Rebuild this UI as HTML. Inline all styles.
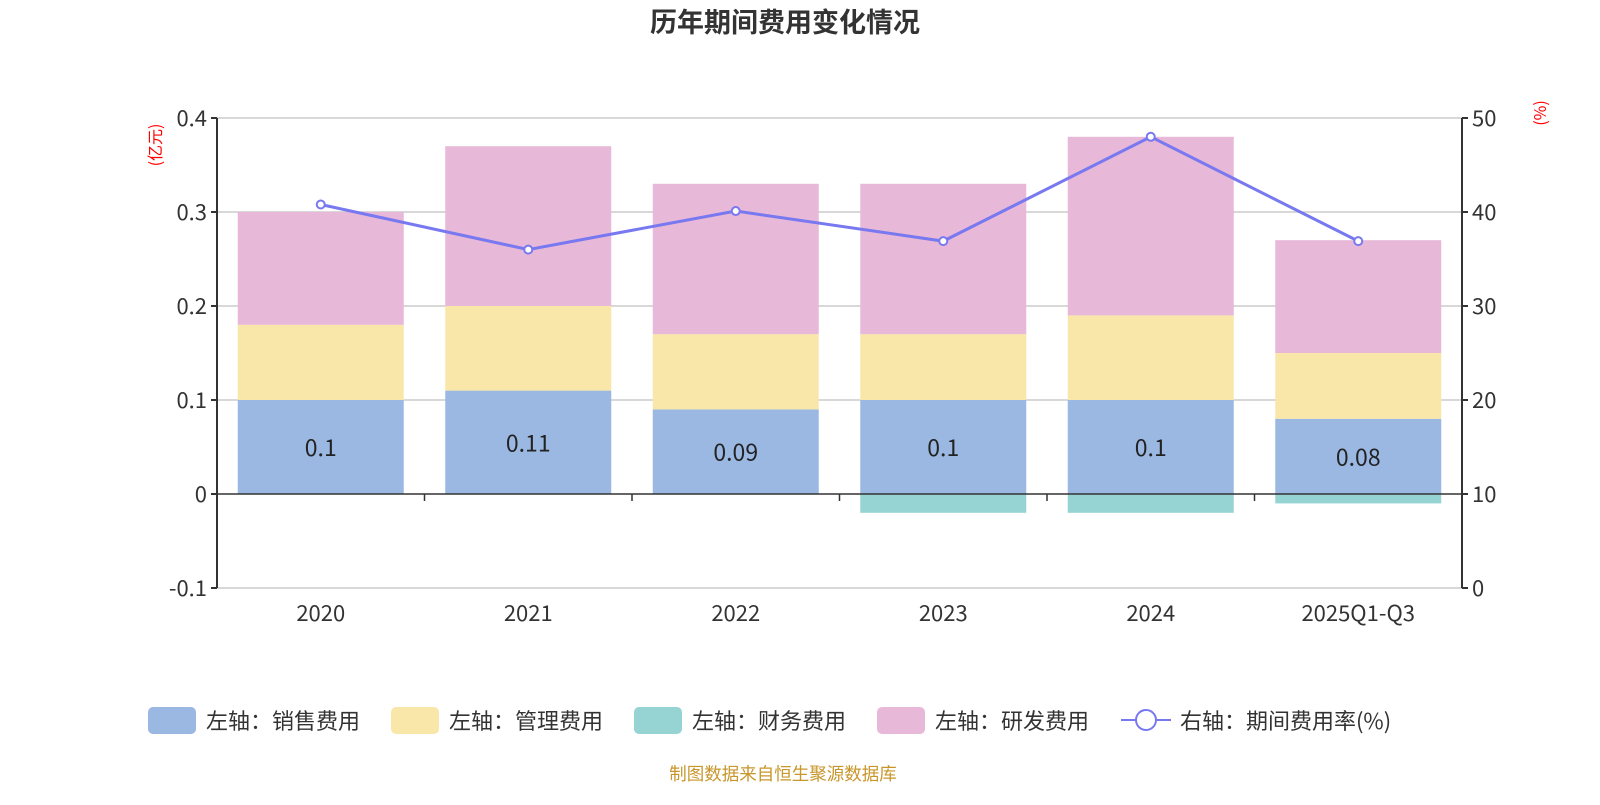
<!DOCTYPE html>
<html><head><meta charset="utf-8"><style>
body{margin:0;background:#fff;width:1600px;height:800px;overflow:hidden;font-family:"Noto Sans CJK SC","Liberation Sans",sans-serif}
svg text{font-family:"Noto Sans CJK SC","Liberation Sans",sans-serif}
</style></head><body>
<svg id="c" width="1600" height="800"></svg>
<script>
const categories=["2020","2021","2022","2023","2024","2025Q1-Q3"];
const sales=[0.1,0.11,0.09,0.1,0.1,0.08];
const mgmt=[0.08,0.09,0.08,0.07,0.09,0.07];
const finance=[0,0,0,-0.02,-0.02,-0.01];
const rnd=[0.12,0.17,0.16,0.16,0.19,0.12];
const rate=[40.8,36,40.1,36.9,48,36.9];
const leftTicks=[-0.1,0,0.1,0.2,0.3,0.4];
const rightTicks=[0,10,20,30,40,50];
const salesLabels=["0.1","0.11","0.09","0.1","0.1","0.08"];
const NS="http://www.w3.org/2000/svg";
const svg=document.getElementById('c');
const X0=217,X1=1462,YT=118,YB=588;
const band=(X1-X0)/categories.length,bw=166;
function yL(v){return YB-(v+0.1)/0.5*(YB-YT);}
function yR(v){return YB-v/50*(YB-YT);}
function xC(i){return X0+band*(i+0.5);}
function mk(t,a,p){const e=document.createElementNS(NS,t);for(const k in a)e.setAttribute(k,a[k]);(p||svg).appendChild(e);return e;}
let t=mk('text',{x:785,y:32,'text-anchor':'middle','font-size':27,'font-weight':'bold',fill:'#333'});t.textContent='历年期间费用变化情况';


leftTicks.forEach((v,i)=>{const y=yL(v);
 if(v!==0){const g=mk('line',{x1:X0,x2:X1,y1:y,y2:y,stroke:'#ccc','stroke-width':1.5});
 
 }
 mk('line',{x1:X0-6,x2:X0,y1:y,y2:y,stroke:'#333','stroke-width':2});
 const l=mk('text',{x:X0-10,y:y+8,'text-anchor':'end','font-size':22,fill:'#333'});l.textContent=v;
 
 
});
rightTicks.forEach(v=>{const y=yR(v);
 mk('line',{x1:X1,x2:X1+6,y1:y,y2:y,stroke:'#333','stroke-width':2});
 const l=mk('text',{x:X1+10,y:y+8,'font-size':22,fill:'#333'});l.textContent=v;
 
 
});
let u=mk('text',{x:0,y:0,'font-size':16,fill:'red','text-anchor':'middle',transform:'translate(161,145) rotate(-90)'});u.textContent='(亿元)';


u=mk('text',{x:0,y:0,'font-size':16,fill:'red','text-anchor':'middle',transform:'translate(1546,113) rotate(-90)'});u.textContent='(%)';


const cols=['#9bb8e2','#f8e7a8','#96d4d4','#e8b8d8'];
categories.forEach((c,i)=>{
 const x=xC(i)-bw/2;let pos=0;
 [[sales,0,'bar-sales'],[mgmt,1,'bar-management'],[rnd,3,'bar-rnd']].forEach(([arr,ci,n])=>{
  const v=arr[i];const r=mk('rect',{x:x,y:yL(pos+v),width:bw,height:yL(pos)-yL(pos+v),fill:cols[ci]});
  
  
  pos+=v;});
 const f=finance[i];if(f<0){const r=mk('rect',{x:x,y:yL(0),width:bw,height:yL(f)-yL(0),fill:cols[2]});
  
  }
 const l=mk('text',{x:xC(i),y:(yL(0)+yL(sales[i]))/2+9,'text-anchor':'middle','font-size':23,fill:'#222'});l.textContent=salesLabels[i];
 
 
 const xl=mk('text',{x:xC(i),y:621,'text-anchor':'middle','font-size':22,fill:'#333'});xl.textContent=c;
 
 
});
mk('line',{x1:X0,x2:X0,y1:YT,y2:YB,stroke:'#333','stroke-width':2});
mk('line',{x1:X1,x2:X1,y1:YT,y2:YB,stroke:'#333','stroke-width':2});
mk('line',{x1:X0,x2:X1,y1:yL(0),y2:yL(0),stroke:'#333','stroke-width':1.5});
for(let i=0;i<=categories.length;i++){mk('line',{x1:X0+band*i,x2:X0+band*i,y1:yL(0),y2:yL(0)+7,stroke:'#333','stroke-width':1.5});}
const pts=rate.map((v,i)=>xC(i)+','+yR(v)).join(' ');
const pl=mk('polyline',{points:pts,fill:'none',stroke:'#7878f0','stroke-width':3});


rate.forEach((v,i)=>{const p=mk('circle',{cx:xC(i),cy:yR(v),r:4,fill:'#fff',stroke:'#7878f0','stroke-width':2});
 
 });
const leg=[['左轴：销售费用',0,148],['左轴：管理费用',1,391],['左轴：财务费用',2,634],['左轴：研发费用',3,877]];
leg.forEach(([n,ci,x])=>{const g=mk('g',{});
 
 
 mk('rect',{x:x,y:707,width:48,height:27,rx:5,fill:cols[ci]},g);
 const tx=mk('text',{x:x+58,y:729,'font-size':22,fill:'#333'},g);tx.textContent=n;});
const g=mk('g',{});


mk('line',{x1:1121,x2:1171,y1:720,y2:720,stroke:'#7878f0','stroke-width':2},g);
mk('circle',{cx:1146,cy:720,r:10,fill:'#fff',stroke:'#7878f0','stroke-width':2},g);
const tx=mk('text',{x:1180,y:729,'font-size':22,fill:'#333'},g);tx.textContent='右轴：期间费用率(%)';
const ft=mk('text',{x:783,y:780,'text-anchor':'middle','font-size':17.5,fill:'#c8962a'});ft.textContent='制图数据来自恒生聚源数据库';


</script>
</body></html>
